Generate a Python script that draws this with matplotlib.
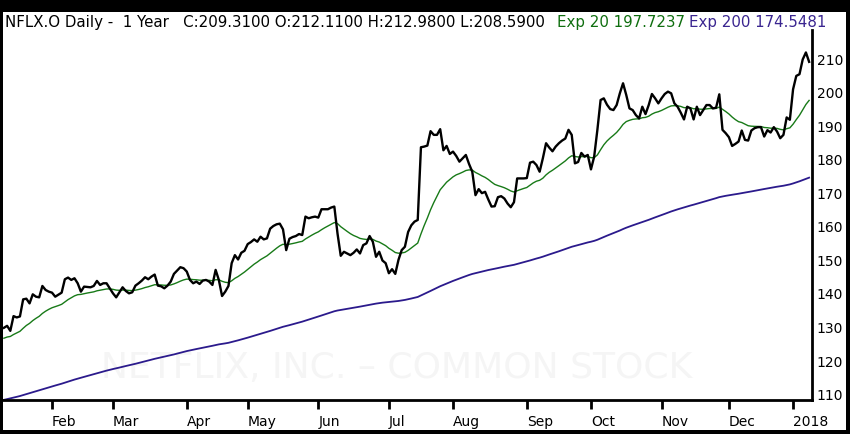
import matplotlib
matplotlib.use("Agg")
import matplotlib.pyplot as plt
from matplotlib.patches import Rectangle
import numpy as np
import pandas as pd

# daily closes, one list per month
close_jan17 = [129.9, 130.5, 129.0, 133.4, 133.0, 133.3, 138.4, 138.6, 137.2, 139.9,
               139.2, 139.0, 142.4, 141.2, 140.7]
close_feb17 = [140.4, 139.2, 139.8, 140.4, 144.4, 144.9, 144.2, 144.7, 143.2, 140.7,
               142.2, 142.1, 142.0, 142.4, 143.9, 142.7, 143.2, 143.2, 141.7]
close_mar17 = [140.2, 139.0, 140.5, 142.0, 140.9, 140.2, 140.5, 142.5, 143.2, 144.0,
               145.0, 144.4, 145.2, 145.8, 142.5, 142.3, 141.7, 142.5, 143.7, 146.0,
               147.0, 148.0, 147.7]
close_apr17 = [146.7, 144.2, 143.2, 143.7, 143.0, 144.0, 144.2, 143.7, 142.7, 147.2,
               144.2, 139.4, 140.7, 142.4, 149.2, 151.6, 150.3, 152.3, 152.9]
close_may17 = [154.9, 155.5, 156.3, 155.6, 157.1, 156.3, 156.6, 159.5, 160.3, 160.8,
               161.0, 159.3, 153.1, 156.5, 157.0, 157.3, 157.9, 157.6, 163.1, 162.6,
               162.9, 163.1]
close_jun17 = [162.8, 165.3, 165.3, 165.3, 165.8, 166.1, 158.0, 151.4, 152.6, 152.1,
               151.6, 152.3, 153.3, 152.1, 154.6, 155.1, 157.3, 155.6, 151.1, 152.6,
               150.0, 149.2]
close_jul17 = [146.2, 147.4, 146.0, 150.2, 153.1, 154.1, 158.5, 160.5, 161.6, 162.1,
               183.8, 184.0, 184.3, 188.6, 187.5, 187.5, 189.2, 182.9, 184.2, 181.8]
close_aug17 = [182.5, 181.2, 179.5, 180.5, 181.5, 178.8, 176.5, 169.5, 171.3, 170.1,
               170.5, 168.2, 166.1, 166.2, 168.9, 169.2, 168.5, 167.0, 165.9, 167.4,
               174.5, 174.5, 174.5]
close_sep17 = [174.6, 179.2, 179.5, 178.5, 176.5, 180.5, 185.0, 183.7, 182.6, 184.0,
               185.0, 185.8, 186.4, 189.0, 187.5, 179.0, 179.4, 182.1, 181.0, 181.5]
close_oct17 = [177.2, 181.0, 189.0, 197.9, 198.4, 196.5, 195.2, 194.9, 196.4, 199.9,
               202.9, 199.4, 195.4, 194.9, 193.4, 192.4, 195.9, 193.7, 196.4, 199.7,
               198.4, 196.9]
close_nov17 = [198.4, 199.7, 200.4, 199.9, 196.9, 195.9, 194.1, 192.1, 195.9, 195.4,
               192.1, 195.9, 193.4, 194.9, 196.4, 196.4, 195.4, 195.6, 199.6, 189.0,
               188.0]
close_dec17 = [186.8, 184.2, 184.8, 185.5, 188.8, 186.0, 185.8, 188.8, 189.5, 189.8,
               189.8, 187.0, 188.9, 188.2, 189.8, 188.5, 186.5, 187.5, 192.7, 192.0]
close_jan18 = [201.1, 205.1, 205.6, 210.0, 212.1, 209.3]

# starting values of the two averages at the left edge of the chart
ema20_start = 126.8
ema200_start = 108.4

market_holidays = ["2017-01-16", "2017-02-20", "2017-04-14", "2017-05-29", "2017-07-04",
                   "2017-09-04", "2017-11-23", "2017-12-25", "2018-01-01"]
y_ticks = [110, 120, 130, 140, 150, 160, 170, 180, 190, 200, 210]

closes = np.array(close_jan17 + close_feb17 + close_mar17 + close_apr17 + close_may17
                  + close_jun17 + close_jul17 + close_aug17 + close_sep17 + close_oct17
                  + close_nov17 + close_dec17 + close_jan18)
dates = pd.bdate_range("2017-01-10", "2018-01-09", freq="C", holidays=market_holidays)
dates = dates[:len(closes)]
x = np.arange(len(closes))


def ema(values, span, start):
    alpha = 2.0 / (span + 1)
    out = np.empty(len(values))
    out[0] = start
    for k in range(1, len(values)):
        out[k] = out[k - 1] + alpha * (values[k] - out[k - 1])
    return out


exp20 = ema(closes, 20, ema20_start)
exp200 = ema(closes, 200, ema200_start)

# month ticks at the first trading day of each month
months = pd.Series(dates.month)
tick_pos = [i for i in range(1, len(dates)) if months[i] != months[i - 1]]
tick_lbl = ["2018" if dates[i].month == 1 else dates[i].strftime("%b") for i in tick_pos]

W, H = 850, 434
fig = plt.figure(figsize=(W / 100, H / 100), dpi=100, facecolor="black")
fig.patches.append(Rectangle((3 / W, 1 - 430 / H), 843 / W, 418 / H,
                             transform=fig.transFigure, facecolor="white",
                             edgecolor="none", zorder=-5))

ax = fig.add_axes([3 / W, 1 - 400 / H, 809 / W, 370 / H])
ax.set_zorder(1)
ax.set_facecolor("none")

ax.text(0.487, 0.087, "NETFLIX, INC. \u2013 COMMON STOCK", transform=ax.transAxes,
        ha="center", va="center", fontsize=26, color="#f5f5f5", zorder=0)

ax.plot(x, exp200, color="#2b1a8c", lw=1.3, zorder=2)
ax.plot(x, exp20, color="#187a18", lw=1.0, zorder=3)
ax.plot(x, closes, color="black", lw=1.7, zorder=4)

ax.set_xlim(-0.28, 251.9)
ax.set_ylim(108.36, 218.8)

for side in ["top", "left"]:
    ax.spines[side].set_visible(False)
for side in ["bottom", "right"]:
    ax.spines[side].set_linewidth(2)
    ax.spines[side].set_color("black")

ax.yaxis.tick_right()
ax.set_yticks(y_ticks)
ax.tick_params(axis="y", length=0, pad=3.5, labelsize=10, labelcolor="black")

ax.set_xticks(tick_pos, tick_lbl)
ax.tick_params(axis="x", direction="out", length=6.5, width=2, pad=4.5, labelsize=10)
for lbl in ax.get_xticklabels():
    lbl.set_ha("left")

ty = 1 - 23 / H
fig.text(5 / W, ty, "NFLX.O Daily -  1 Year   C:209.3100 O:212.1100 H:212.9800 L:208.5900",
         fontsize=10.8, color="black", va="center", ha="left")
fig.text(557 / W, ty, "Exp 20 197.7237", fontsize=10.8, color="#0f6e0f", va="center", ha="left")
fig.text(689 / W, ty, "Exp 200 174.5481", fontsize=10.8, color="#3a2590", va="center", ha="left")

fig.savefig("out.png", dpi=100, facecolor=fig.get_facecolor())
